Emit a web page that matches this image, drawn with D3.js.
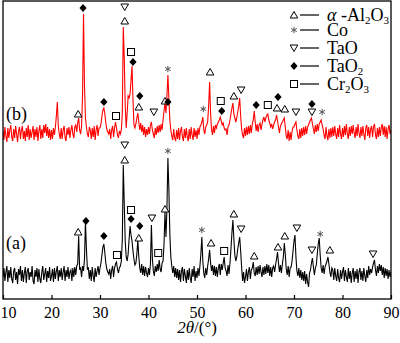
<!DOCTYPE html>
<html><head><meta charset="utf-8">
<script src="https://cdn.jsdelivr.net/npm/d3@7"></script>
<style>html,body{margin:0;padding:0;background:#fff;}svg{display:block;}</style>
</head><body>
<svg id="chart" width="400" height="343"></svg>
<script>
// ---- data ----
const twoThetaStart = 10, twoThetaStep = 0.2;
const xTicks = [10, 20, 30, 40, 50, 60, 70, 80, 90];
const offsetB = 141;
// pattern (a), black
const intensityA = [
22,31,18,27,33,17,29,21,32,20,
16,28,31,19,27,15,30,24,33,18,
29,17,26,32,16,28,31,19,27,22,
33,18,15,29,22,31,17,30,20,16,
27,33,19,25,31,17,28,21,32,18,
23,30,17,31,20,28,33,18,29,22,
31,19,27,33,18,29,22,32,20,27,
29,18,31,22,32,24,33,35,63,30,
31,22,33,28,40,77,50,30,31,20,
29,18,32,23,17,31,22,28,33,24,
31,36,44,52,55,46,36,30,27,25,
30,20,29,33,22,31,35,37,30,26,
31,33,38,60,134,95,58,42,38,45,
60,73,64,58,48,40,34,36,45,59,
42,31,26,35,24,33,23,32,26,22,
31,24,35,74,40,28,23,33,27,35,
28,39,30,27,36,38,55,87,62,90,
141,110,65,42,33,26,33,22,31,21,
30,19,29,17,28,32,18,30,23,16,
29,19,31,21,16,30,22,33,18,28,
21,31,23,33,45,62,38,26,21,31,
24,33,40,49,36,28,34,24,33,23,
32,22,31,35,24,35,29,36,42,31,
28,23,34,25,36,50,66,79,60,44,
38,42,50,56,62,48,32,18,27,16,
22,30,18,27,32,20,29,31,37,26,
23,32,24,33,25,34,27,22,32,24,
33,25,35,26,34,23,32,22,31,33,
27,34,40,47,36,27,34,26,35,42,
56,45,30,24,33,22,31,32,38,48,
58,64,42,28,23,31,21,29,19,27,
18,28,15,25,17,12,26,29,36,41,
32,24,31,34,45,55,61,44,31,26,
34,25,32,35,38,42,35,27,22,31,
29,19,31,23,18,30,21,17,29,20,
27,32,18,29,22,17,31,20,28,16,
26,31,17,28,20,30,16,27,31,19,
28,18,31,23,17,29,21,33,24,30,
26,32,36,39,29,23,33,26,35,28,
34,24,32,21,31,23,30,20,29,22,
27];
// pattern (b), red (plotted with offsetB)
const intensityB = [
27,18,31,22,16,30,20,28,33,21,
17,29,20,32,24,16,27,31,19,28,
32,19,27,17,30,21,33,18,29,20,
26,32,18,29,21,31,17,27,33,19,
29,20,33,25,34,22,31,20,29,18,
28,19,30,23,31,42,56,32,24,19,
30,19,28,32,20,17,30,23,31,20,
28,33,24,20,31,33,26,35,40,28,
24,32,62,144,72,40,31,24,21,31,
28,19,30,21,32,18,28,33,22,30,
30,34,42,48,50,44,35,29,26,24,
29,19,28,32,21,30,36,30,23,20,
27,24,28,45,131,100,52,30,45,62,
60,64,78,92,58,33,30,34,40,45,
36,28,35,26,33,23,31,21,29,23,
31,24,33,36,28,24,20,30,23,32,
25,33,26,34,28,38,47,55,45,62,
83,60,38,28,22,18,29,20,17,28,
19,30,18,27,31,21,17,29,20,30,
21,17,29,19,31,23,18,30,21,28,
19,30,23,31,33,36,41,28,24,31,
33,36,52,76,45,28,23,32,25,33,
30,34,36,38,41,37,33,35,30,28,
29,23,31,33,38,44,50,55,44,40,
36,40,46,52,60,42,29,23,20,30,
22,31,23,32,24,33,25,34,38,47,
36,27,34,26,33,35,28,34,38,41,
36,40,43,44,38,35,31,34,29,33,
36,38,43,37,31,25,32,34,36,38,
40,31,22,19,28,17,26,18,27,31,
31,34,36,28,22,19,29,20,30,22,
31,23,32,24,31,33,36,38,40,34,
29,24,33,26,34,27,34,36,38,33,
29,23,19,31,22,18,29,20,30,21,
31,22,32,24,19,30,21,33,24,19,
30,21,32,23,34,24,19,31,22,32,
24,33,25,20,31,22,34,25,20,31,
22,32,24,18,30,33,22,31,20,29,
32,21,31,34,23,19,30,21,31,22,
31,34,23,32,21,31,19,29,33,24,
28];
// phase markers: [phase, 2theta, intensity]
const markersA = [
["alpha",25.5,67],["tao2",27.1,78],["tao2",30.8,63],["cr",33.5,44],
["tao",35.1,154],["alpha",35.1,139],["cr",36.4,89],["tao2",36.4,80],
["tao2",38.2,73],["alpha",38.0,61],["tao",40.7,81],["cr",42.0,46],
["alpha",43.4,90],["co",44.0,148],["co",51.0,69],["alpha",52.9,56],
["cr",55.6,48],["alpha",57.6,85],["tao",59.1,70],["alpha",61.8,43],
["alpha",66.7,52],["alpha",68.1,63],["tao",70.6,71],["tao",73.7,49],
["co",75.4,65],["alpha",77.4,49],["tao",86.3,45]];
const markersB = [
["tao2",26.5,150],["alpha",25.5,44],["tao2",30.8,56],["cr",33.3,42],
["tao",35.1,151],["alpha",35.1,137],["cr",36.4,106],["tao2",36.8,96],
["tao2",38.2,62],["alpha",38.0,51],["tao",41.1,46],["alpha",43.4,57],
["tao2",44.0,56],["co",44.0,89],["co",51.3,49],["alpha",52.7,86],
["cr",54.9,57],["tao2",55.1,47],["alpha",57.6,62],["tao",59.1,68],
["tao2",62.2,53],["cr",64.6,53],["tao2",66.7,61],["alpha",66.5,50],
["alpha",68.1,49],["tao",70.4,46],["tao2",73.7,54],["tao",73.7,46],
["co",75.8,46]];
const legendItems = [
 {phase:"alpha", parts:[["α","it"],[" -Al",""],["2","sub"],["O",""],["3","sub"]]},
 {phase:"co", parts:[["Co",""]]},
 {phase:"tao", parts:[["TaO",""]]},
 {phase:"tao2", parts:[["TaO",""],["2","sub"]]},
 {phase:"cr", parts:[["Cr",""],["2","sub"],["O",""],["3","sub"]]}];

// ---- drawing ----
const FONT = "'Liberation Serif','Times New Roman',serif";
const svg = d3.select("#chart");
const L = 3, R = 391, T = 1, B = 299;
const x = d3.scaleLinear().domain([10, 90]).range([L, R]);
const y = d3.scaleLinear().domain([0, 298]).range([B, T]);

svg.append("clipPath").attr("id","clip").append("rect")
  .attr("x",L).attr("y",T).attr("width",R-L).attr("height",B-T);

const line = d3.line().x(d => x(d[0])).y(d => y(d[1]));
const seriesA = intensityA.map((v,i) => [twoThetaStart + i*twoThetaStep, v]);
const seriesB = intensityB.map((v,i) => [twoThetaStart + i*twoThetaStep, v + offsetB]);

const g = svg.append("g").attr("clip-path","url(#clip)");
g.append("path").datum(seriesA).attr("d", line)
  .attr("fill","none").attr("stroke","#000").attr("stroke-width",1.1);
g.append("path").datum(seriesB).attr("d", line)
  .attr("fill","none").attr("stroke","#f00").attr("stroke-width",1.1);

// symbols
function drawSymbol(sel, phase, cx, cy) {
  const s = sel.append("g").attr("transform", `translate(${cx},${cy})`);
  if (phase === "alpha") {
    s.append("path").attr("d","M0,-3.5L3.8,3L-3.8,3Z").attr("fill","#fff").attr("stroke","#000").attr("stroke-width",1);
  } else if (phase === "tao") {
    s.append("path").attr("d","M0,3.5L3.8,-3L-3.8,-3Z").attr("fill","#fff").attr("stroke","#000").attr("stroke-width",1);
  } else if (phase === "tao2") {
    s.append("path").attr("d","M0,-4L3.6,0L0,4L-3.6,0Z").attr("fill","#000");
  } else if (phase === "cr") {
    s.append("rect").attr("x",-3.5).attr("y",-3.5).attr("width",7).attr("height",7)
      .attr("fill","#fff").attr("stroke","#000").attr("stroke-width",1);
  } else if (phase === "co") {
    s.append("path").attr("d","M0,-3.2L0,3.2M-2.8,-1.6L2.8,1.6M-2.8,1.6L2.8,-1.6")
      .attr("stroke","#555").attr("stroke-width",1).attr("fill","none");
  }
}
const mk = svg.append("g");
markersA.forEach(m => drawSymbol(mk, m[0], x(m[1]), y(m[2])));
markersB.forEach(m => drawSymbol(mk, m[0], x(m[1]), y(m[2] + offsetB)));

// frame
svg.append("rect").attr("x",L).attr("y",T).attr("width",R-L).attr("height",B-T)
  .attr("fill","none").attr("stroke","#000").attr("stroke-width",1.3);

// x axis
const ax = svg.append("g").attr("transform",`translate(0,${B})`)
  .call(d3.axisBottom(x).tickValues(xTicks).tickSizeInner(-4).tickSizeOuter(0).tickPadding(8).tickFormat(d3.format("d")));
ax.select(".domain").remove();
ax.selectAll(".tick line").attr("stroke","#000").attr("stroke-width",1.2);
ax.selectAll(".tick text").attr("font-family",FONT).attr("font-size",16).attr("fill","#000")
  .attr("dy",null).attr("y",19);
ax.selectAll(".tick text").filter(d => d === 10).attr("dx",5);

// axis title
const tt = svg.append("text").attr("x",(L+R)/2).attr("y",333).attr("text-anchor","middle")
  .attr("font-family",FONT).attr("font-size",17);
tt.append("tspan").attr("font-style","italic").text("2θ");
tt.append("tspan").text("/(°)");

// pattern labels
svg.append("text").attr("x",6).attr("y",120).attr("font-family",FONT).attr("font-size",18).text("(b)");
svg.append("text").attr("x",6).attr("y",249).attr("font-family",FONT).attr("font-size",18).text("(a)");

// legend
const legendRows = [15, 30, 48, 66, 84];
const lg = svg.append("g");
legendItems.forEach((it, i) => {
  const cy = legendRows[i];
  drawSymbol(lg, it.phase, 294, cy);
  lg.append("line").attr("x1",300).attr("x2",319).attr("y1",cy).attr("y2",cy)
    .attr("stroke","#000").attr("stroke-width",1.2);
  const t = lg.append("text").attr("x",327).attr("y",cy+6)
    .attr("font-family",FONT).attr("font-size",18).attr("fill","#000");
  let shifted = false;
  it.parts.forEach(p => {
    const ts = t.append("tspan").text(p[0]);
    if (p[1] === "it") ts.attr("font-style","italic");
    if (p[1] === "sub") { ts.attr("font-size",11).attr("dy",3); shifted = true; }
    else if (shifted) { ts.attr("dy",-3); shifted = false; }
  });
});
</script>
</body></html>
